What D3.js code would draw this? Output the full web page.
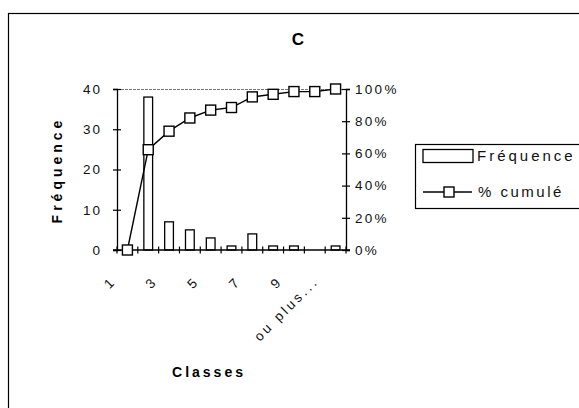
<!DOCTYPE html>
<html><head><meta charset="utf-8">
<script src="https://cdn.jsdelivr.net/npm/d3@7"></script>
<style>
body{margin:0;background:#fff;}
svg{display:block;font-family:"Liberation Sans",Arial,sans-serif;}
</style></head>
<body>
<svg id="c" width="579" height="408"></svg>
<script>
const categories = ["1","2","3","4","5","6","7","8","9","10","ou plus..."];
const frequence = [0,38,7,5,3,1,4,1,1,0,1];
const cumule = [0,62.3,73.8,82.0,86.9,88.5,95.1,96.7,98.4,98.4,100];
const leftTicks = [0,10,20,30,40];
const rightTicks = [0,20,40,60,80,100];
const shownLabels = ["1","3","5","7","9","ou plus..."];

const svg = d3.select("#c");
const L=117,R=346,T=89,B=250;

// outer frame
svg.append("rect").attr("x",8.5).attr("y",13.5).attr("width",700).attr("height",600)
  .attr("fill","none").attr("stroke","#000").attr("stroke-width",1.2);

const x = d3.scaleBand().domain(categories).range([L,R]).padding(0);
const yL = d3.scaleLinear().domain([0,40]).range([B,T]);
const yR = d3.scaleLinear().domain([0,100]).range([B,T]);

// top border of plot
svg.append("line").attr("x1",L).attr("x2",R).attr("y1",T+0.5).attr("y2",T+0.5)
  .attr("stroke","#777").attr("stroke-width",1).attr("stroke-dasharray","3,1");

// bars
const bw = x.bandwidth()*0.42;
svg.append("g").selectAll("rect").data(frequence).join("rect")
  .attr("x",(d,i)=>x(categories[i])+x.bandwidth()/2-bw/2)
  .attr("y",d=>yL(d))
  .attr("width",bw)
  .attr("height",d=>B-yL(d))
  .attr("fill","#fff").attr("stroke","#000").attr("stroke-width",1.3);

// left axis
const ga = svg.append("g").attr("transform",`translate(${L},0)`)
  .call(d3.axisLeft(yL).tickValues(leftTicks).tickSize(4).tickPadding(11));
ga.select(".domain").attr("stroke-width",1.3);
ga.selectAll(".tick line").attr("x1",4).attr("x2",-4).attr("stroke-width",1.2);
ga.selectAll(".tick text").attr("font-size",13.5).attr("letter-spacing",2)
  .attr("font-family","Liberation Sans, Arial").attr("fill","#111");

// right axis
const gr = svg.append("g").attr("transform",`translate(${R},0)`)
  .call(d3.axisRight(yR).tickValues(rightTicks).tickSize(4).tickPadding(5).tickFormat(d=>d+"%"));
gr.select(".domain").attr("stroke-width",1.3);
gr.selectAll(".tick line").attr("x1",-4).attr("x2",4).attr("stroke-width",1.2);
gr.selectAll(".tick text").attr("font-size",13.5).attr("letter-spacing",2.3)
  .attr("font-family","Liberation Sans, Arial").attr("fill","#111");

// bottom axis
const boundaries = categories.map(c=>x(c)).concat([R]);
svg.append("line").attr("x1",L-4).attr("x2",R+4).attr("y1",B).attr("y2",B)
  .attr("stroke","#000").attr("stroke-width",1.3);
svg.append("g").selectAll("line").data(boundaries).join("line")
  .attr("x1",d=>d).attr("x2",d=>d).attr("y1",B-3.5).attr("y2",B+3.5)
  .attr("stroke","#000").attr("stroke-width",1.2);

// x labels rotated
svg.append("g").selectAll("text").data(categories.filter(c=>shownLabels.includes(c))).join("text")
  .attr("transform",d=>`translate(${x(d)+x.bandwidth()/2-(d.length>2?16:10.5)},${B+32}) rotate(-45)`)
  .attr("text-anchor","end")
  .attr("font-size",13.5).attr("letter-spacing",3).attr("fill","#111")
  .text(d=>d);

// cumulative line
const line = d3.line().x((d,i)=>x(categories[i])+x.bandwidth()/2).y(d=>yR(d));
svg.append("path").datum(cumule).attr("d",line).attr("fill","none")
  .attr("stroke","#000").attr("stroke-width",1.4);
const ms=10;
svg.append("g").selectAll("rect").data(cumule).join("rect")
  .attr("x",(d,i)=>x(categories[i])+x.bandwidth()/2-ms/2)
  .attr("y",d=>yR(d)-ms/2)
  .attr("width",ms).attr("height",ms)
  .attr("fill","#fff").attr("stroke","#000").attr("stroke-width",1.4);

// title
svg.append("text").attr("x",298).attr("y",45).attr("text-anchor","middle")
  .attr("font-size",17).attr("font-weight","bold").text("C");

// axis titles
svg.append("text").attr("transform","translate(62,170) rotate(-90)")
  .attr("text-anchor","middle").attr("font-size",14).attr("font-weight","bold")
  .attr("letter-spacing",4).text("Fréquence");
svg.append("text").attr("x",209).attr("y",377).attr("text-anchor","middle")
  .attr("font-size",14).attr("font-weight","bold").attr("letter-spacing",3)
  .text("Classes");

// legend
const lg = svg.append("g");
lg.append("rect").attr("x",415.5).attr("y",144.5).attr("width",200).attr("height",64)
  .attr("fill","#fff").attr("stroke","#000").attr("stroke-width",1.2);
lg.append("rect").attr("x",423).attr("y",149.5).attr("width",50).attr("height",13)
  .attr("fill","#fff").attr("stroke","#000").attr("stroke-width",1.3);
lg.append("text").attr("x",477).attr("y",161).attr("font-size",15).attr("letter-spacing",3).attr("fill","#111").text("Fréquence");
lg.append("line").attr("x1",423).attr("x2",472).attr("y1",192).attr("y2",192)
  .attr("stroke","#000").attr("stroke-width",1.4);
lg.append("rect").attr("x",444).attr("y",187).attr("width",10).attr("height",10)
  .attr("fill","#fff").attr("stroke","#000").attr("stroke-width",1.4);
lg.append("text").attr("x",478).attr("y",197).attr("font-size",15).attr("letter-spacing",2.5).attr("fill","#111").text("% cumulé");
</script>
</body></html>
